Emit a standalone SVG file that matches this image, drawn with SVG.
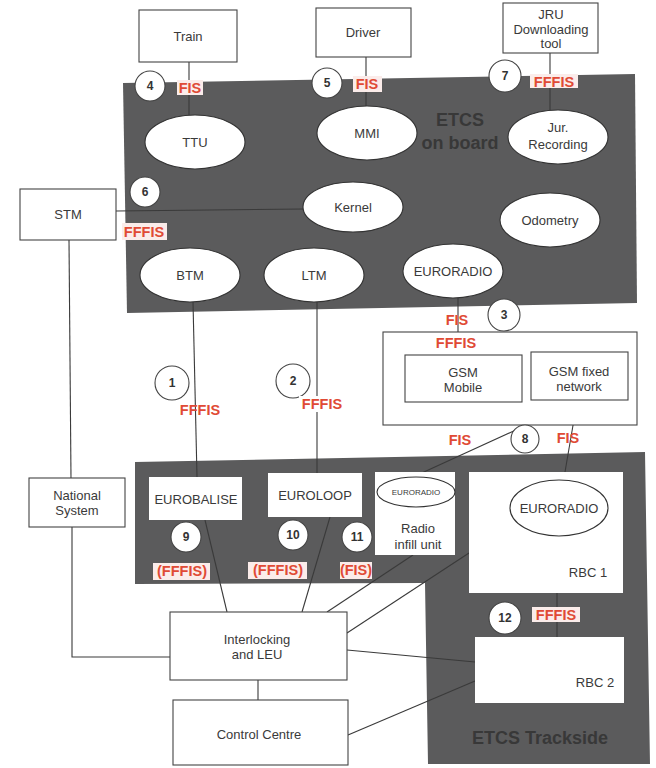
<svg xmlns="http://www.w3.org/2000/svg" width="656" height="768" viewBox="0 0 656 768">
<style>
.bg{fill:#5b5b5c}
.box{fill:#fff;stroke:#444;stroke-width:1.1}
.wbox{fill:#fff;stroke:none}
.ell{fill:#fff;stroke:#333;stroke-width:1.1}
.t{font-family:"Liberation Sans",Arial,sans-serif;font-size:13px;fill:#3a3a3a;text-anchor:middle}
.big{font-family:"Liberation Sans",Arial,sans-serif;font-size:18px;font-weight:bold;fill:#383838;text-anchor:middle}
.r{font-family:"Liberation Sans",Arial,sans-serif;font-size:14.5px;font-weight:bold;fill:#e04a35;text-anchor:middle}
.lb{fill:#fbecea}
.c{fill:#fff;stroke:#444;stroke-width:1.1}
.n{font-family:"Liberation Sans",Arial,sans-serif;font-size:12px;font-weight:bold;fill:#333;text-anchor:middle}
.ln{stroke:#3a3a3a;stroke-width:1.1;fill:none}
</style>
<rect width="656" height="768" fill="#fff"/>
<g id="etcs-onboard">
<polygon class="bg" points="123,83 635,74 637,303 127,313"/>
<text class="big" x="460" y="126">ETCS</text>
<text class="big" x="460" y="149">on board</text>
</g>
<g id="etcs-trackside">
<polygon class="bg" points="135,462 645,452 650,764 428,764 425,583 135,584"/>
<text class="big" x="540" y="744">ETCS Trackside</text>
</g>
<g id="connectors">
<line class="ln" x1="189" y1="62" x2="189" y2="115"/>
<line class="ln" x1="366" y1="57" x2="366" y2="106"/>
<line class="ln" x1="550" y1="53" x2="550" y2="110"/>
<line class="ln" x1="116" y1="211" x2="304" y2="209"/>
<line class="ln" x1="193" y1="302" x2="197" y2="477"/>
<line class="ln" x1="317" y1="302" x2="317" y2="473"/>
<line class="ln" x1="458" y1="298" x2="458" y2="355"/>
<line class="ln" x1="577" y1="402" x2="413" y2="477"/>
<line class="ln" x1="577" y1="402" x2="565" y2="472"/>
<line class="ln" x1="557" y1="593" x2="557" y2="637"/>
<line class="ln" x1="205" y1="520" x2="227" y2="612"/>
<line class="ln" x1="330" y1="517" x2="302" y2="612"/>
<line class="ln" x1="413" y1="555" x2="327" y2="612"/>
<line class="ln" x1="469" y1="553" x2="347" y2="633"/>
<line class="ln" x1="475" y1="662" x2="347" y2="650"/>
<line class="ln" x1="475" y1="681" x2="348" y2="735"/>
<line class="ln" x1="69" y1="240" x2="71" y2="478"/>
<polyline class="ln" points="72,527 72,657 170,657"/>
<line class="ln" x1="258" y1="680" x2="258" y2="700"/>
</g>
<g id="train"><rect class="box" x="139" y="10" width="98" height="52"/><text class="t" x="188" y="41">Train</text></g>
<g id="driver"><rect class="box" x="316" y="8" width="95" height="49"/><text class="t" x="363" y="37">Driver</text></g>
<g id="jru"><rect class="box" x="503" y="3" width="95" height="50"/><text class="t" x="551" y="19">JRU</text><text class="t" x="551" y="34">Downloading</text><text class="t" x="551" y="48">tool</text></g>
<g id="ttu"><ellipse class="ell" cx="195" cy="142" rx="50" ry="27"/><text class="t" x="195" y="147">TTU</text></g>
<g id="mmi"><ellipse class="ell" cx="367" cy="133" rx="50" ry="27"/><text class="t" x="367" y="138">MMI</text></g>
<g id="jur"><ellipse class="ell" cx="558" cy="137" rx="50" ry="27"/><text class="t" x="558" y="132">Jur.</text><text class="t" x="558" y="149">Recording</text></g>
<g id="kernel"><ellipse class="ell" cx="353" cy="207" rx="50" ry="25"/><text class="t" x="353" y="212">Kernel</text></g>
<g id="odometry"><ellipse class="ell" cx="550" cy="220" rx="50" ry="27"/><text class="t" x="550" y="225">Odometry</text></g>
<g id="btm"><ellipse class="ell" cx="190" cy="275" rx="50" ry="27"/><text class="t" x="190" y="280">BTM</text></g>
<g id="ltm"><ellipse class="ell" cx="314" cy="275" rx="50" ry="27"/><text class="t" x="314" y="280">LTM</text></g>
<g id="euroradio-onboard"><ellipse class="ell" cx="453" cy="271" rx="50" ry="27"/><text class="t" x="453" y="276">EURORADIO</text></g>
<g id="stm"><rect class="box" x="20" y="189" width="96" height="51"/><text class="t" x="68" y="219">STM</text></g>
<g id="national"><rect class="box" x="29" y="478" width="96" height="49"/><text class="t" x="77" y="500">National</text><text class="t" x="77" y="515">System</text></g>
<g id="gsm"><rect class="box" x="383" y="332" width="254" height="93"/></g>
<g id="gsm-mobile"><rect class="box" x="405" y="355" width="117" height="47"/><text class="t" x="463" y="377">GSM</text><text class="t" x="463" y="392">Mobile</text></g>
<g id="gsm-fixed"><rect class="box" x="531" y="352" width="97" height="48"/><text class="t" x="579" y="376">GSM fixed</text><text class="t" x="579" y="391">network</text></g>
<g id="eurobalise"><rect class="wbox" x="149" y="477" width="93" height="43"/><text class="t" x="196" y="504">EUROBALISE</text></g>
<g id="euroloop"><rect class="wbox" x="268" y="473" width="94" height="44"/><text class="t" x="315" y="500">EUROLOOP</text></g>
<g id="radio-infill"><rect class="wbox" x="375" y="472" width="80" height="83"/><ellipse class="ell" cx="416" cy="492" rx="39" ry="15"/><text class="t" x="416" y="495" style="font-size:8px">EURORADIO</text><text class="t" x="418" y="533">Radio</text><text class="t" x="418" y="549">infill unit</text></g>
<g id="rbc1"><rect class="wbox" x="469" y="472" width="154" height="121"/><ellipse class="ell" cx="559" cy="508" rx="49" ry="28"/><text class="t" x="559" y="513">EURORADIO</text><text class="t" x="588" y="577">RBC 1</text></g>
<g id="rbc2"><rect class="wbox" x="475" y="637" width="149" height="66"/><text class="t" x="595" y="687">RBC 2</text></g>
<g id="interlocking"><rect class="box" x="170" y="612" width="177" height="68"/><text class="t" x="257" y="644">Interlocking</text><text class="t" x="257" y="659">and LEU</text></g>
<g id="control"><rect class="box" x="173" y="700" width="175" height="65"/><text class="t" x="259" y="739">Control Centre</text></g>
<g id="badges">
<circle class="c" cx="150" cy="86" r="15"/><text class="n" x="150" y="90">4</text>
<circle class="c" cx="327" cy="83" r="15"/><text class="n" x="327" y="87">5</text>
<circle class="c" cx="505" cy="76" r="16"/><text class="n" x="505" y="80">7</text>
<circle class="c" cx="145" cy="192" r="15"/><text class="n" x="145" y="196">6</text>
<circle class="c" cx="504" cy="315" r="16"/><text class="n" x="504" y="319">3</text>
<circle class="c" cx="172" cy="383" r="17"/><text class="n" x="172" y="387">1</text>
<circle class="c" cx="293" cy="381" r="17"/><text class="n" x="293" y="385">2</text>
<circle class="c" cx="525" cy="439" r="14"/><text class="n" x="525" y="443">8</text>
<circle class="c" cx="186" cy="537" r="15"/><text class="n" x="186" y="541">9</text>
<circle class="c" cx="293" cy="535" r="15"/><text class="n" x="293" y="539">10</text>
<circle class="c" cx="357" cy="537" r="15"/><text class="n" x="357" y="541">11</text>
<circle class="c" cx="505" cy="618" r="16"/><text class="n" x="505" y="622">12</text>
</g>
<g id="labels">
<rect class="lb" x="177" y="80" width="26" height="15"/><text class="r" x="190" y="93">FIS</text>
<rect class="lb" x="353" y="76" width="29" height="16"/><text class="r" x="367" y="89">FIS</text>
<rect class="lb" x="530" y="74" width="48" height="14"/><text class="r" x="554" y="87">FFFIS</text>
<rect class="lb" x="122" y="223" width="45" height="17"/><text class="r" x="144" y="237">FFFIS</text>
<text class="r" x="457" y="325">FIS</text>
<text class="r" x="456" y="348">FFFIS</text>
<text class="r" x="200" y="415">FFFIS</text>
<rect fill="#fff" x="299" y="396" width="46" height="16"/><text class="r" x="322" y="409">FFFIS</text>
<text class="r" x="460" y="445">FIS</text>
<text class="r" x="568" y="443">FIS</text>
<rect class="lb" x="153" y="563" width="57" height="17"/><text class="r" x="182" y="576">(FFFIS)</text>
<rect class="lb" x="248" y="562" width="59" height="17"/><text class="r" x="278" y="575">(FFFIS)</text>
<rect class="lb" x="340" y="562" width="32" height="17"/><text class="r" x="356" y="575">(FIS)</text>
<rect class="lb" x="532" y="607" width="48" height="15"/><text class="r" x="556" y="620">FFFIS</text>
</g>
</svg>
